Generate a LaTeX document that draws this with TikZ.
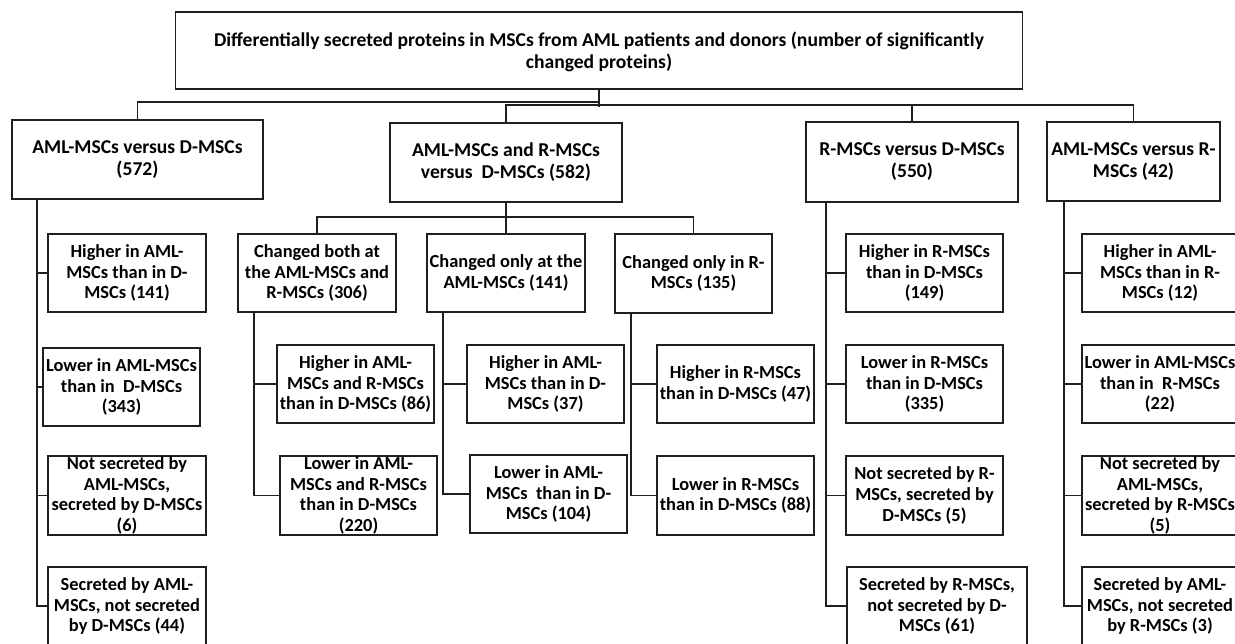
\documentclass[tikz,border=0pt]{standalone}
\usepackage{fontspec}
\setmainfont{Carlito}
\tikzset{
  boxst/.style={draw=black!88, line width=1.7pt, rectangle, inner sep=0pt},
  txtst/.style={align=center, inner sep=0pt, text=black, font=\fontsize{18.4}{20.7}\selectfont\bfseries},
  txtbig/.style={align=center, inner sep=0pt, text=black, font=\fontsize{19.6}{22}\selectfont\bfseries},
  conn/.style={draw=black!88, line width=1.7pt}
}
\newcommand{\mybox}[7][txtst]{%
  \node[boxst, minimum width={#5-#3}, minimum height={#6-#4}] (#2) at ({(#3+#5)/2},{(#4+#6)/2}) {};
  \node[#1] (#2t) at (#2.center) {#7};}
\begin{document}
\begin{tikzpicture}[x=1pt,y=-1pt]
\useasboundingbox (0,0) rectangle (1235,643);
\clip (0,0) rectangle (1235,643);
\fill[white] (0,0) rectangle (1235,643);
% top
\node[boxst, minimum width=847, minimum height=77] (top) at (599,50.5) {};
\node[txtbig] (topt) at (599,52) {Differentially secreted proteins in MSCs from AML patients and donors (number of significantly\\changed proteins)\hspace{18pt}};
% level 1
\mybox[txtbig]{L1a}{12}{120}{263}{199}{AML-MSCs versus D-MSCs\\(572)}
\mybox[txtbig]{L1b}{390}{123}{622}{202}{AML-MSCs and R-MSCs\\versus\ \ D-MSCs (582)}
\mybox[txtbig]{L1c}{806}{122}{1018}{202}{R-MSCs versus D-MSCs\\(550)}
\mybox[txtbig]{L1d}{1047}{122}{1220}{201}{AML-MSCs versus R-\\MSCs (42)}
% left column
\mybox{c1}{48}{234}{206}{312}{Higher in AML-\\MSCs than in D-\\MSCs (141)}
\mybox{c2}{43}{348}{200}{426}{Lower in AML-MSCs\\than in\ \ D-MSCs\\(343)}
\mybox{c3}{48}{456}{206}{535}{Not secreted by\\AML-MSCs,\\secreted by D-MSCs\\(6)}
\mybox{c4}{48}{567}{206}{645}{Secreted by AML-\\MSCs, not secreted\\by D-MSCs (44)}
% middle
\mybox{m1}{238}{234}{396}{312}{Changed both at\\the AML-MSCs and\\R-MSCs (306)}
\mybox{m2}{427}{234}{585}{312}{Changed only at the\\AML-MSCs (141)}
\mybox{m3}{615}{234}{772}{313}{Changed only in R-\\MSCs (135)}
\mybox{m1a}{277}{345}{434}{423}{Higher in AML-\\MSCs and R-MSCs\\than in D-MSCs (86)}
\mybox{m1b}{280}{456}{437}{535}{Lower in AML-\\MSCs and R-MSCs\\than in D-MSCs\\(220)}
\mybox{m2a}{467}{345}{624}{423}{Higher in AML-\\MSCs than in D-\\MSCs (37)}
\mybox{m2b}{470}{455}{627}{533}{Lower in AML-\\MSCs\ \ than in D-\\MSCs (104)}
\mybox{m3a}{657}{345}{814}{423}{Higher in R-MSCs\\than in D-MSCs (47)}
\mybox{m3b}{657}{456}{814}{535}{Lower in R-MSCs\\than in D-MSCs (88)}
% R column
\mybox{r1}{846}{234}{1003}{312}{Higher in R-MSCs\\than in D-MSCs\\(149)}
\mybox{r2}{846}{345}{1003}{423}{Lower in R-MSCs\\than in D-MSCs\\(335)}
\mybox{r3}{846}{456}{1003}{535}{Not secreted by R-\\MSCs, secreted by\\D-MSCs (5)}
\mybox{r4}{847}{567}{1027}{645}{Secreted by R-MSCs,\\not secreted by D-\\MSCs (61)}
% AML vs R column
\mybox{a1}{1082}{234}{1238}{312}{Higher in AML-\\MSCs than in R-\\MSCs (12)}
\mybox{a2}{1082}{345}{1238}{423}{Lower in AML-MSCs\\than in\ \ R-MSCs\\(22)}
\mybox{a3}{1082}{456}{1238}{535}{Not secreted by\\AML-MSCs,\\secreted by R-MSCs\\(5)}
\mybox{a4}{1082}{567}{1238}{645}{Secreted by AML-\\MSCs, not secreted\\by R-MSCs (3)}
% column x positions
\coordinate (xa) at (37,0);
\coordinate (xm1) at (254,0);
\coordinate (xm2) at (443,0);
\coordinate (xm3) at (631,0);
\coordinate (xr) at (826,0);
\coordinate (xd) at (1064,0);
% top connectors
\draw[conn] (L1a.north) -- ++(0,-17) -| (top.south);
\draw[conn] (top.south) -- ++(0,17);
\draw[conn] (L1b.north) -- ++(0,-17) -| (L1d.north);
\draw[conn] (L1c.north) -- ++(0,-16);
% left column
\draw[conn] (L1a.south -| xa) |- (c4.west);
\foreach \n in {c1,c2,c3} { \draw[conn] (\n.west) -- (\n.west -| xa); }
% middle
\draw[conn] (L1b.south) -- (m2.north);
\draw[conn] (m1.north) -- ++(0,-16) -| (m3.north);
\draw[conn] (m1.south -| xm1) |- (m1b.west);
\draw[conn] (m1a.west) -- (m1a.west -| xm1);
\draw[conn] (m2.south -| xm2) |- (m2b.west);
\draw[conn] (m2a.west) -- (m2a.west -| xm2);
\draw[conn] (m3.south -| xm3) |- (m3b.west);
\draw[conn] (m3a.west) -- (m3a.west -| xm3);
% R column
\draw[conn] (L1c.south -| xr) |- (r4.west);
\foreach \n in {r1,r2,r3} { \draw[conn] (\n.west) -- (\n.west -| xr); }
% AML vs R column
\draw[conn] (L1d.south -| xd) |- (a4.west);
\foreach \n in {a1,a2,a3} { \draw[conn] (\n.west) -- (\n.west -| xd); }
\end{tikzpicture}
\end{document}
